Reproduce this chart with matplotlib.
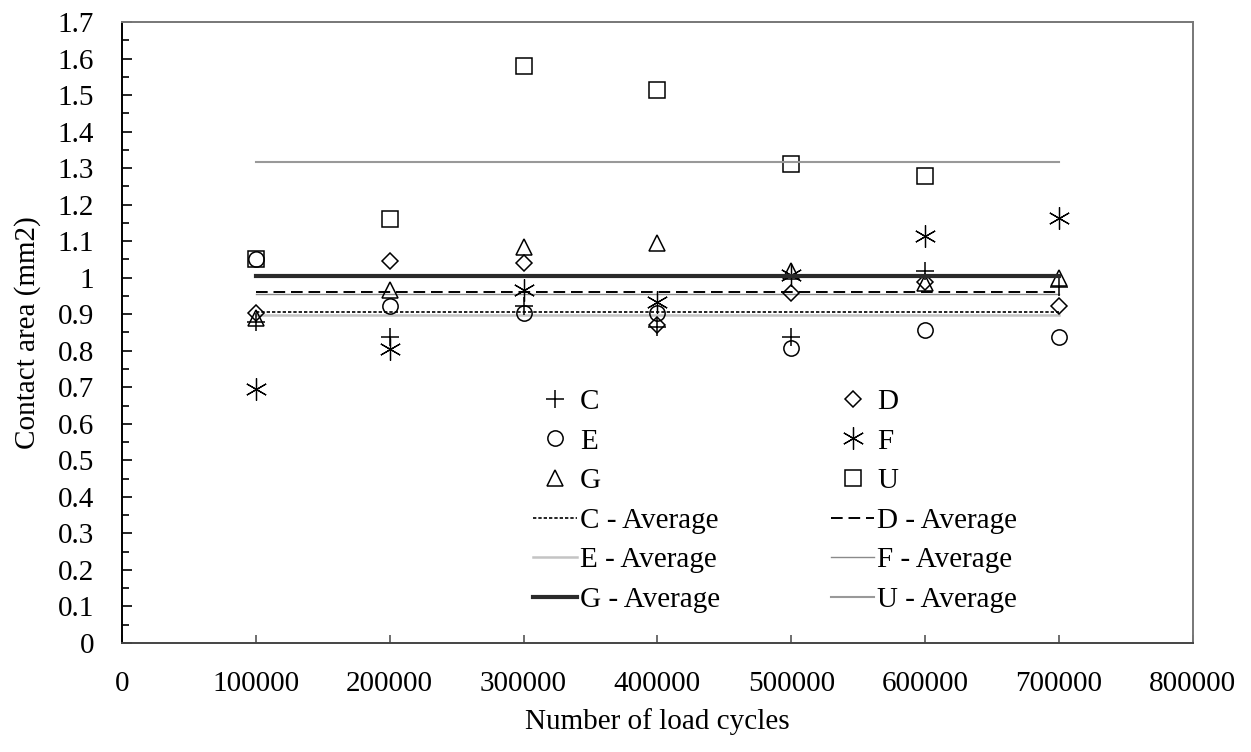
import numpy as np
import matplotlib
matplotlib.use("Agg")
import matplotlib.pyplot as plt
from matplotlib.ticker import MultipleLocator, FuncFormatter

plt.rcParams["font.family"] = ["Liberation Serif", "DejaVu Serif"]

cycles = [100000, 200000, 300000, 400000, 500000, 600000, 700000]

area_c = [0.879, 0.837, 0.923, 0.865, 0.838, 1.019, 0.975]
area_d = [0.903, 1.046, 1.040, 0.870, 0.958, 0.989, 0.923]
area_e = [1.051, 0.923, 0.903, 0.903, 0.808, 0.857, 0.838]
area_f = [0.695, 0.805, 0.966, 0.934, 1.007, 1.115, 1.163]
area_g = [0.890, 0.966, 1.084, 1.095, 1.019, 0.985, 0.998]
area_u = [1.051, 1.161, 1.580, 1.514, 1.311, 1.278]

avg_c = 0.905
avg_d = 0.961
avg_e = 0.898
avg_f = 0.955
avg_g = 1.006
avg_u = 1.316

fig, ax = plt.subplots(figsize=(12.51, 7.52), dpi=100)
fig.subplots_adjust(left=0.0975, right=0.9535, top=0.9707, bottom=0.145)

ms = 11
mew = 1.1
h = {}
h["C"], = ax.plot(cycles, area_c, ls="none", marker="+", ms=ms + 2, mew=mew, color="black", label="C")
h["D"], = ax.plot(cycles, area_d, ls="none", marker="D", ms=ms - 3, mew=mew, mfc="none", mec="black", label="D")
h["E"], = ax.plot(cycles, area_e, ls="none", marker="o", ms=ms, mew=mew, mfc="none", mec="black", label="E")
h["F"], = ax.plot(cycles, area_f, ls="none", marker=(6, 2, 0), ms=ms + 5, mew=0.9, color="black", label="F")
h["G"], = ax.plot(cycles, area_g, ls="none", marker="^", ms=ms, mew=mew, mfc="none", mec="black", label="G")
h["U"], = ax.plot(cycles[:len(area_u)], area_u, ls="none", marker="s", ms=ms, mew=mew, mfc="none", mec="black", label="U")

h["Ca"], = ax.plot(cycles, [avg_c] * len(cycles), ls=(0, (2, 1.2)), lw=1.2, color="black", label="C - Average")
h["Da"], = ax.plot(cycles, [avg_d] * len(cycles), ls=(0, (6, 3)), lw=1.4, color="black", label="D - Average")
h["Ea"], = ax.plot(cycles, [avg_e] * len(cycles), ls="-", lw=1.8, color="#c4c4c4", label="E - Average", zorder=1)
h["Fa"], = ax.plot(cycles, [avg_f] * len(cycles), ls="-", lw=1.0, color="#8a8a8a", label="F - Average", zorder=1)
h["Ga"], = ax.plot(cycles, [avg_g] * len(cycles), ls="-", lw=3.0, color="#2a2a2a", label="G - Average")
h["Ua"], = ax.plot(cycles, [avg_u] * len(cycles), ls="-", lw=1.5, color="#999999", label="U - Average")

ax.set_xlim(0, 800000)
ax.set_ylim(0, 1.7)
ax.xaxis.set_major_locator(MultipleLocator(100000))
ax.yaxis.set_major_locator(MultipleLocator(0.1))
ax.yaxis.set_minor_locator(MultipleLocator(0.05))
ax.yaxis.set_major_formatter(FuncFormatter(lambda v, p: "%g" % round(v, 2)))

ax.tick_params(axis="both", which="major", direction="in", labelsize=21, width=1.2)
ax.tick_params(axis="y", which="major", length=7, pad=20)
ax.tick_params(axis="y", which="minor", direction="in", length=5, width=1.2)
ax.tick_params(axis="x", which="major", length=6, pad=20, color="#555555")

ax.spines["left"].set_color("black")
ax.spines["bottom"].set_color("#444444")
ax.spines["top"].set_color("#777777")
ax.spines["right"].set_color("#777777")
for s in ax.spines.values():
    s.set_linewidth(1.4)

ax.set_xlabel("Number of load cycles", fontsize=21, labelpad=8)
ax.set_ylabel("Contact area (mm2)", fontsize=21, labelpad=12)

order = ["C", "E", "G", "Ca", "Ea", "Ga", "D", "F", "U", "Da", "Fa", "Ua"]
ax.legend([h[k] for k in order], [h[k].get_label() for k in order],
          ncol=2, frameon=False, fontsize=21, loc="center",
          bbox_to_anchor=(0.61, 0.229), handlelength=1.5, handletextpad=0.1,
          columnspacing=3.8, labelspacing=0.45, markerscale=1.0)

plt.savefig("out.png", dpi=100)
